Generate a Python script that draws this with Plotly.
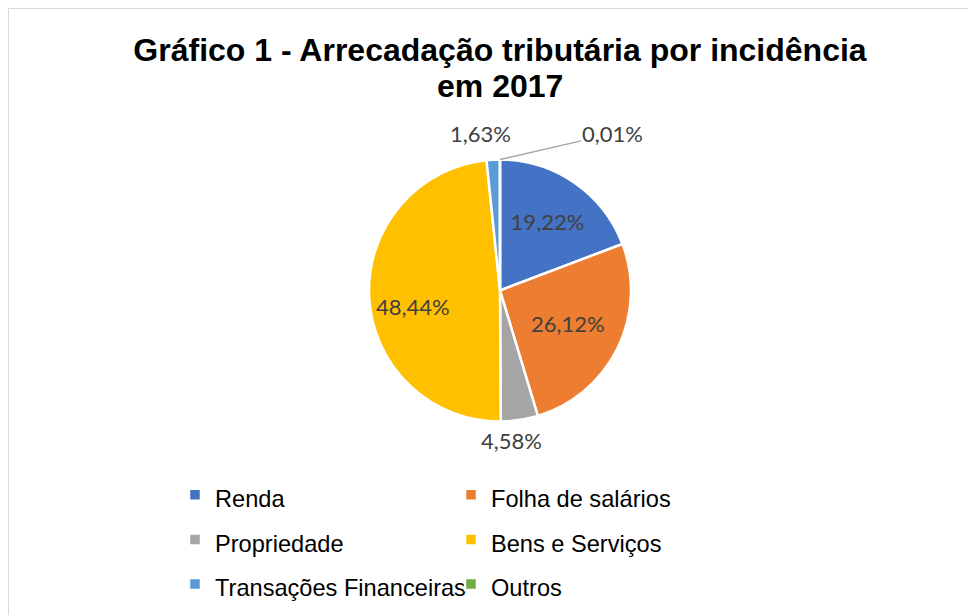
import math
import plotly.graph_objects as go

categories = ["Renda", "Folha de salários", "Propriedade", "Bens e Serviços",
              "Transações Financeiras", "Outros"]
values = [19.22, 26.12, 4.58, 48.44, 1.63, 0.01]
colors = ["#4472C4", "#ED7D31", "#A5A5A5", "#FFC000", "#5B9BD5", "#70AD47"]
title_lines = ["Gráfico 1 - Arrecadação tributária por incidência", "em 2017"]
text_labels = [f"{v:.2f}%".replace(".", ",") for v in values]

# how each data label is drawn: by plotly inside the slice, or as a separate
# label placed along the slice bisector (radius factor of the pie radius)
label_mode = ["inside", "inside", "radial", "radial", "radial", "leader"]
label_rfac = [None, None, 1.16, 0.70, 1.20, None]
label_nudge = [(0, 0), (0, 0), (-11, 0), (5, -11), (-11, 0), (0, 0)]

W, H = 976, 615
ML, MR = 160, 200
PW = W - ML - MR
OFF = 8  # page offset of the plot div


def px_x(p):
    return (p - OFF - ML) / PW


def px_y(p):
    return 1 - (p - OFF) / H


legend_labels = [f"<span style='font-size:23.6px'>{c}</span>" for c in categories]

pie_l, pie_r, pie_t, pie_b = 369, 631, 159, 422
dom_x = [px_x(pie_l), px_x(pie_r)]
dom_y = [px_y(pie_b), px_y(pie_t)]
cx, cy = (pie_l + pie_r) / 2, (pie_t + pie_b) / 2
rad = (pie_r - pie_l) / 2

textpos = ["inside" if m == "inside" else "none" for m in label_mode]

fig = go.Figure(go.Pie(
    labels=legend_labels,
    values=values,
    text=text_labels,
    textinfo="text",
    textposition=textpos,
    insidetextorientation="horizontal",
    sort=False,
    direction="clockwise",
    rotation=0,
    marker=dict(colors=colors, line=dict(color="white", width=2.5)),
    textfont=dict(family="Lato", size=22, color="#404040"),
    domain=dict(x=dom_x, y=dom_y),
    hoverinfo="label+percent",
))

total = sum(values)
cum = 0.0
lab_font = dict(family="Lato", size=22, color="#404040")
for v, t, m, f, (dx, dy) in zip(values, text_labels, label_mode, label_rfac, label_nudge):
    theta = 2 * math.pi * (cum + v / 2) / total
    cum += v
    if m == "radial":
        lx = cx + f * rad * math.sin(theta)
        ly = cy - f * rad * math.cos(theta)
        fig.add_annotation(x=px_x(lx), y=px_y(ly), xref="paper", yref="paper",
                           xanchor="center", yanchor="middle",
                           xshift=dx, yshift=dy,
                           text=t, showarrow=False, font=lab_font)
    elif m == "leader":
        tx = cx + rad * math.sin(theta)
        ty = cy - rad * math.cos(theta)
        fig.add_annotation(x=px_x(tx), y=px_y(ty), xref="paper", yref="paper",
                           text=t, showarrow=True, arrowhead=0, arrowwidth=1.5,
                           arrowcolor="#A6A6A6", ax=113, ay=-26, standoff=0,
                           font=lab_font)

# second title line (tighter line spacing than plotly's multi-line title)
fig.add_annotation(x=px_x(500), y=px_y(86), xref="paper", yref="paper",
                   text=f"<b>{title_lines[1]}</b>", showarrow=False,
                   xanchor="center", yanchor="middle",
                   font=dict(family="Liberation Sans, Arial", size=32, color="black"))

fig.update_layout(
    width=W, height=H,
    margin=dict(l=ML, r=MR, t=0, b=0),
    paper_bgcolor="white",
    plot_bgcolor="white",
    title=dict(
        text=f"<b>{title_lines[0]}</b>",
        font=dict(family="Liberation Sans, Arial", size=32, color="black"),
        x=(500 - OFF) / W, xanchor="center", xref="container",
        y=1 - (50 - OFF) / H, yanchor="middle", yref="container",
    ),
    showlegend=True,
    legend=dict(
        orientation="h",
        x=px_x(175), xanchor="left",
        y=px_y(467.5), yanchor="top",
        font=dict(family="Liberation Sans, Arial", size=32, color="black"),
        entrywidth=231,
        itemclick=False,
        traceorder="normal",
    ),
    shapes=[dict(
        type="rect", xref="paper", yref="paper",
        x0=px_x(8.5), x1=px_x(1000), y0=px_y(640), y1=px_y(8.5),
        line=dict(color="#D9D9D9", width=1), fillcolor="rgba(0,0,0,0)",
        layer="below",
    )],
)

fig.write_html("out.html")
